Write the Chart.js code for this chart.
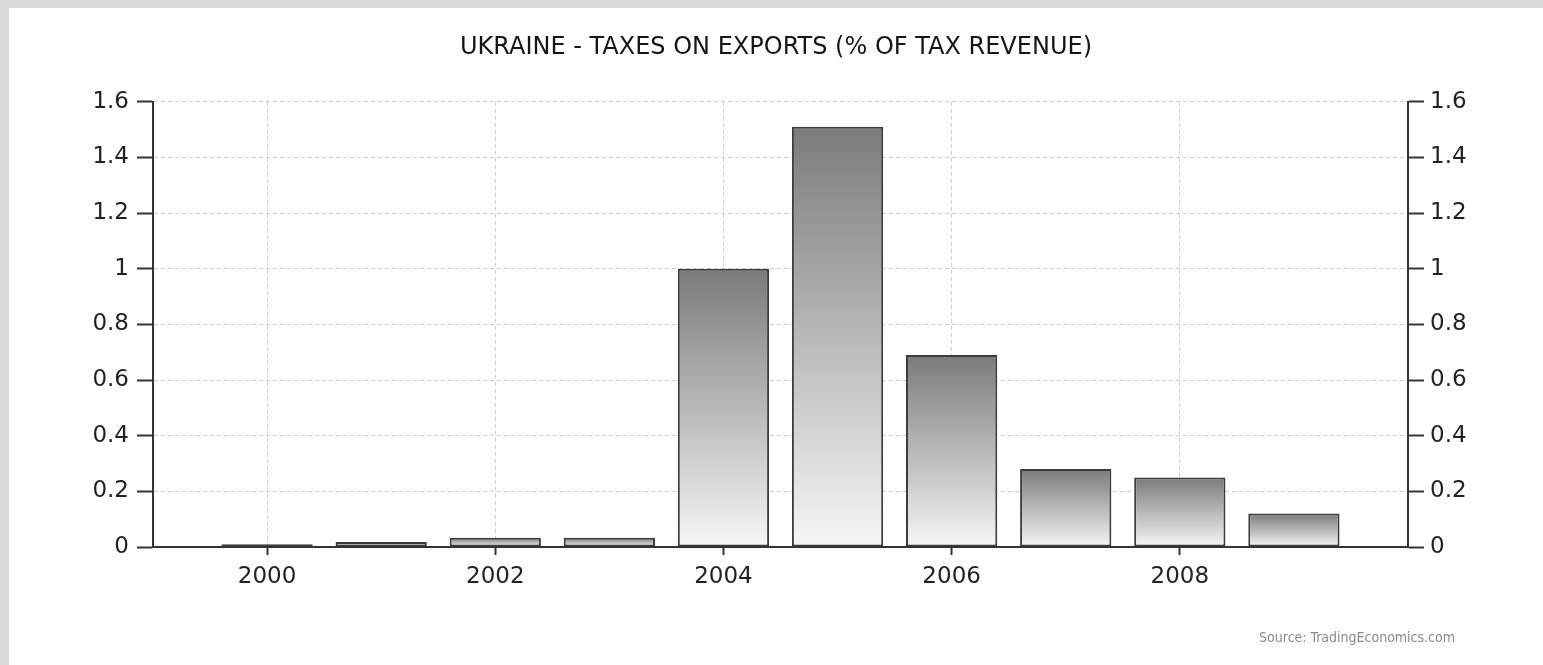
<!DOCTYPE html>
<html>
<head>
<meta charset="utf-8">
<script src="https://cdn.jsdelivr.net/npm/chart.js@4/dist/chart.umd.min.js"></script>
<style>
  html, body { margin: 0; padding: 0; }
  body { width: 1543px; height: 665px; background: #dadada; position: relative; overflow: hidden; }
  #panel { position: absolute; left: 9px; top: 8px; width: 1534px; height: 657px; background: #fff; }
</style>
</head>
<body>
<div id="panel"><canvas id="exports-bar" width="1534" height="657"></canvas></div>
<script>
var years = [2000, 2001, 2002, 2003, 2004, 2005, 2006, 2007, 2008, 2009];
var exportTaxShare = [0.01, 0.018, 0.033, 0.033, 1.0, 1.51, 0.69, 0.28, 0.25, 0.12];
var yearTicks = [2000, 2002, 2004, 2006, 2008];
var valueTicks = [0, 0.2, 0.4, 0.6, 0.8, 1, 1.2, 1.4, 1.6];
var valueTickLabels = ['0', '0.2', '0.4', '0.6', '0.8', '1', '1.2', '1.4', '1.6'];

var labelFont = { family: 'DejaVu Sans', size: 23 };

// grey fade from the top of each bar down to the baseline
function barFill(context) {
    var chart = context.chart;
    if (!chart.chartArea || context.dataIndex === undefined) return '#999';
    var y = chart.scales.y;
    var top = y.getPixelForValue(exportTaxShare[context.dataIndex]);
    var base = y.getPixelForValue(0);
    if (base - top < 3.5) return '#444';
    var g = chart.ctx.createLinearGradient(0, top, 0, base);
    g.addColorStop(0, '#7b7b7b');
    g.addColorStop(1, '#f6f6f6');
    return g;
}

var sourceNote = {
    id: 'sourceNote',
    afterDraw: function(chart) {
        var ctx = chart.ctx;
        ctx.save();
        ctx.font = '14px "DejaVu Sans Condensed"';
        ctx.fillStyle = '#8a8a8a';
        ctx.textAlign = 'right';
        ctx.textBaseline = 'middle';
        ctx.fillText('Source: TradingEconomics.com', 1446, 630);
        ctx.restore();
    }
};

new Chart(document.getElementById('exports-bar'), {
    type: 'bar',
    data: {
        datasets: [{
            label: 'Taxes on exports',
            data: years.map(function(yr, i) { return { x: yr, y: exportTaxShare[i] }; }),
            backgroundColor: barFill,
            borderColor: '#3c3c3c',
            borderWidth: 2,
            borderSkipped: false,
            categoryPercentage: 1,
            barPercentage: 0.8
        }]
    },
    options: {
        responsive: false,
        animation: false,
        events: [],
        plugins: {
            legend: { display: false },
            tooltip: { enabled: false },
            title: {
                display: true,
                text: 'UKRAINE - TAXES ON EXPORTS (% OF TAX REVENUE)',
                color: '#151515',
                font: { family: 'DejaVu Sans', size: 24, weight: 'normal' },
                padding: { top: 25, bottom: 40 }
            }
        },
        scales: {
            x: {
                type: 'linear',
                min: 1999,
                max: 2010,
                offset: false,
                afterBuildTicks: function(s) { s.ticks = yearTicks.map(function(v) { return { value: v }; }); },
                afterFit: function(s) { s.height = 118; },
                grid: { color: '#cfcfcf', lineWidth: 1, offset: false, tickColor: '#333', tickLength: 8, tickWidth: 2 },
                border: { display: true, color: '#333', width: 2, dash: [4, 3] },
                ticks: { color: '#222', font: labelFont, padding: 8, maxRotation: 0, callback: function(v) { return String(v); } }
            },
            y: {
                position: 'left',
                min: 0,
                max: 1.6,
                afterBuildTicks: function(s) { s.ticks = valueTicks.map(function(v) { return { value: v }; }); },
                afterFit: function(s) { s.width = 144; },
                grid: { color: '#cfcfcf', lineWidth: 1, tickColor: '#333', tickLength: 16, tickWidth: 2 },
                border: { display: true, color: '#333', width: 2, dash: [4, 3] },
                ticks: { color: '#222', font: labelFont, padding: 8, callback: function(v, i) { return valueTickLabels[i]; } }
            },
            yRight: {
                position: 'right',
                min: 0,
                max: 1.6,
                afterBuildTicks: function(s) { s.ticks = valueTicks.map(function(v) { return { value: v }; }); },
                afterFit: function(s) { s.width = 135; },
                grid: { drawOnChartArea: false, tickColor: '#333', tickLength: 16, tickWidth: 2 },
                border: { display: true, color: '#333', width: 2 },
                ticks: { color: '#222', font: labelFont, padding: 6, callback: function(v, i) { return valueTickLabels[i]; } }
            }
        }
    },
    plugins: [sourceNote]
});
</script>
</body>
</html>
